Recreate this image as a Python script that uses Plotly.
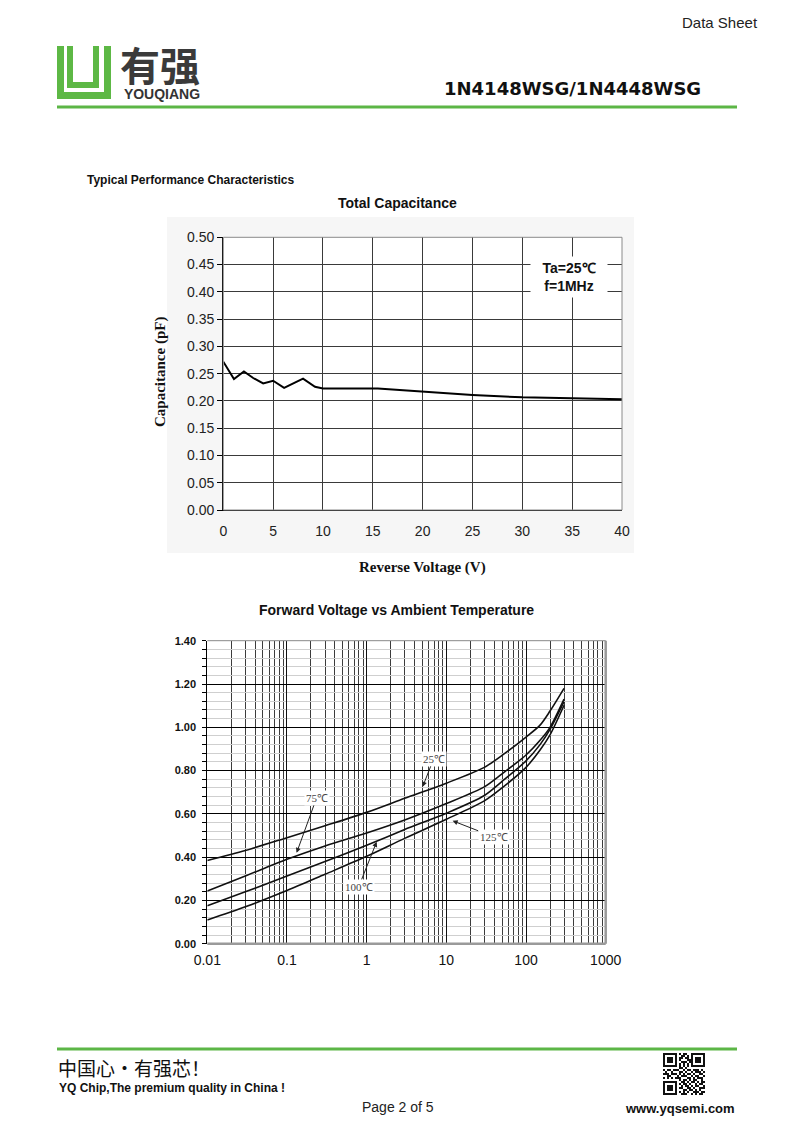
import math
import plotly.graph_objects as go

W, H = 794, 1123

# ---------------- data ----------------
# Total capacitance vs reverse voltage
cap_voltage = [0, 1.07, 2.07, 3, 4, 5, 6.1, 7, 8, 9.2, 10, 15.5, 18, 20, 25, 30, 35, 39, 40]
cap_pf = [0.272, 0.240, 0.254, 0.242, 0.232, 0.237, 0.224, 0.232, 0.241, 0.226,
          0.223, 0.223, 0.220, 0.2165, 0.211, 0.2065, 0.205, 0.203, 0.203]

# Forward voltage vs forward current at various temperatures
fv_current = [0.01, 0.03, 0.1, 0.3, 1, 3, 10, 30, 50, 100, 150, 200, 300]
fv_25 = [0.385, 0.431, 0.49, 0.545, 0.607, 0.672, 0.742, 0.815, 0.87, 0.955, 1.01, 1.075, 1.18]
fv_75 = [0.244, 0.313, 0.39, 0.452, 0.512, 0.572, 0.648, 0.725, 0.785, 0.872, 0.94, 1.0, 1.13]
fv_100 = [0.176, 0.24, 0.313, 0.38, 0.455, 0.528, 0.603, 0.685, 0.75, 0.845, 0.92, 0.99, 1.118]
fv_125 = [0.11, 0.171, 0.246, 0.321, 0.404, 0.487, 0.575, 0.66, 0.72, 0.815, 0.895, 0.965, 1.102]
fv_series = [("25℃", fv_25), ("75℃", fv_75), ("100℃", fv_100), ("125℃", fv_125)]

x2_tickvals = [0.01, 0.1, 1, 10, 100, 1000]
x2_ticktext = ["0.01", "0.1", "1", "10", "100", "1000"]

# ---------------- helpers ----------------
def px(x):
    return x / W

def py(y):
    return 1 - y / H

GREEN = "#5cb646"
SANS = "Liberation Sans, Arial, sans-serif"
SERIF = "Liberation Serif, Times New Roman, serif"
CJK = "Noto Sans CJK SC, sans-serif"

annotations = []
shapes = []

def text(t, x, y, size, xanchor="left", family=SANS, bold=False, color="#111",
         textangle=0, yanchor="middle"):
    annotations.append(dict(
        text=t, x=px(x), y=py(y), xref="paper", yref="paper",
        xanchor=xanchor, yanchor=yanchor, showarrow=False, textangle=textangle,
        align="left" if xanchor == "left" else ("right" if xanchor == "right" else "center"),
        font=dict(size=size, family=family, color=color, weight="bold" if bold else "normal"),
    ))

def rect(x0, y0, x1, y1, fill=None, line=None, lw=0, layer="below"):
    shapes.append(dict(
        type="rect", xref="paper", yref="paper",
        x0=px(x0), x1=px(x1), y0=py(y1), y1=py(y0),
        fillcolor=fill if fill else "rgba(0,0,0,0)",
        line=dict(color=line if line else "rgba(0,0,0,0)", width=lw),
        layer=layer,
    ))

def hline(x0, x1, y, color, width):
    shapes.append(dict(type="line", xref="paper", yref="paper",
                       x0=px(x0), x1=px(x1), y0=py(y), y1=py(y),
                       line=dict(color=color, width=width), layer="above"))

# ---------------- page header ----------------
text("Data Sheet", 760, 22, 15, xanchor="right", color="#222")
text("1N4148WSG/1N4448WSG", 703, 89, 18, xanchor="right",
     family="DejaVu Sans, sans-serif", bold=True, color="#111")
logo_text = ('<span style="font-family:\'Noto Sans CJK SC\';font-size:40px;'
             'font-weight:bold;color:#3a3a3a">有强</span><br>'
             '<span style="font-size:14px"> YOUQIANG</span>')
text(logo_text, 118, 104, 14, bold=True, color="#333", yanchor="bottom")
hline(57, 737, 107, GREEN, 3)

# logo icon (approximation with rectangles)
LG = "#5db845"
rect(57, 46, 64, 99, fill=LG, layer="above")        # outer left bar
rect(57, 92, 111, 99, fill=LG, layer="above")       # outer bottom bar
rect(104, 46, 111, 99, fill=LG, layer="above")      # outer right bar
rect(67, 46, 73, 88, fill=LG, layer="above")        # inner left bar
rect(67, 82, 99, 88, fill=LG, layer="above")        # inner bottom bar
rect(93, 46, 99, 88, fill=LG, layer="above")        # inner right bar

# ---------------- section titles ----------------
text("Typical Performance Characteristics", 85, 180, 12, bold=True, color="#111")
text("Total Capacitance", 397, 203, 14, xanchor="center", bold=True, color="#111")

# chart 1 light background box
rect(167, 217, 634, 553, fill="#f6f6f6")
rect(223.3, 237.3, 622, 510, fill="#ffffff")

# ---------------- chart 1 ----------------
fig = go.Figure()
fig.add_trace(go.Scatter(
    x=cap_voltage, y=cap_pf, mode="lines", xaxis="x", yaxis="y",
    line=dict(color="#000", width=2), showlegend=False, hoverinfo="skip",
))

# chart 1 axis titles
text("Capacitance (pF)", 161, 372, 15, xanchor="center", family=SERIF, bold=True,
     color="#111", textangle=-90)
text("Reverse Voltage (V)", 422, 567, 15, xanchor="center", family=SERIF, bold=True, color="#111")

# condition box
annotations.append(dict(
    text="Ta=25℃<br>f=1MHz", x=px(569), y=py(277), xref="paper", yref="paper",
    xanchor="center", yanchor="middle", showarrow=False, bgcolor="#ffffff",
    width=74, height=38, align="center",
    font=dict(size=14, family=SANS, color="#111", weight="bold"),
))

# chart 1 frame (top / right grey)
rect(223.3, 237.3, 622, 510, line="#8a8a8a", lw=1, layer="above")

# ---------------- chart 2 ----------------
text("Forward Voltage vs Ambient Temperature", 396, 610, 14, xanchor="center", bold=True, color="#111")

for name, vals in fv_series:
    fig.add_trace(go.Scatter(
        x=fv_current, y=vals, mode="lines", xaxis="x2", yaxis="y2", name=name,
        line=dict(color="#111", width=1.6, shape="spline", smoothing=0.8),
        showlegend=False, hoverinfo="skip",
    ))

rect(207.3, 640.7, 605.7, 943.8, fill="#ffffff")
# frame: grey
shapes.append(dict(type="line", xref="paper", yref="paper",
                   x0=px(207.3), x1=px(605.7), y0=py(943.8), y1=py(943.8),
                   line=dict(color="#9a9a9a", width=2.5), layer="above"))
shapes.append(dict(type="line", xref="paper", yref="paper",
                   x0=px(605.7), x1=px(605.7), y0=py(943.8), y1=py(640.7),
                   line=dict(color="#9a9a9a", width=2.5), layer="above"))
shapes.append(dict(type="line", xref="paper", yref="paper",
                   x0=px(207.3), x1=px(605.7), y0=py(640.7), y1=py(640.7),
                   line=dict(color="#888", width=1), layer="above"))

# curve labels with arrows (tip in data coords, text offset in pixels)
def curve_label(t, xv, yv, ax, ay):
    annotations.append(dict(
        text=t, x=math.log10(xv), y=yv, xref="x2", yref="y2",
        ax=ax, ay=ay, showarrow=True, arrowhead=2, arrowsize=1, arrowwidth=1,
        arrowcolor="#222", bgcolor="#ffffff", borderpad=1,
        font=dict(size=11, family=SERIF, color="#444"),
    ))

curve_label(fv_series[0][0], 5.04, 0.725, 11, -28)
curve_label(fv_series[1][0], 0.132, 0.42, 20, -55)
curve_label(fv_series[2][0], 1.335, 0.471, -18, 45)
curve_label(fv_series[3][0], 12.0, 0.568, 41, 16)

# ---------------- footer ----------------
hline(57, 737, 1049, GREEN, 3)
text("中国心・有强芯！", 56, 1067, 19, family=CJK, color="#111")
text("YQ Chip,The premium quality in China !", 57, 1088, 12, bold=True, color="#111")
text("Page 2 of 5", 398, 1107, 14, xanchor="center", color="#222")
text("www.yqsemi.com", 737, 1108, 13, xanchor="right", bold=True, color="#111")

# QR code decoration (fixed pattern)
finder = ["1111111", "1000001", "1011101", "1011101", "1011101", "1000001", "1111111"]
top_mid = ["0101100", "0011010", "0110110", "0100011", "0011101", "0101010", "0101010"]
mid_rows = [
    "000000001101000000000",
    "101101110010110111010",
    "010010001101001011101",
    "111011101010110100110",
    "001100010111001011001",
    "101010111000110101110",
    "000000001011010110010",
]
bot_right = ["0110101101011", "1011010010110", "0101101011001", "1100110100111",
             "0011011010100", "1010100111011", "0111001010110"]
qr = [finder[i] + top_mid[i] + finder[i] for i in range(7)] + mid_rows + \
     [finder[i] + "0" + bot_right[i] for i in range(7)]
qx0, qy0, cs = 663.0, 1053.0, 2.0
for r, row in enumerate(qr):
    c = 0
    while c < len(row):
        if row[c] == "1":
            s = c
            while c < len(row) and row[c] == "1":
                c += 1
            rect(qx0 + s * cs, qy0 + r * cs, qx0 + c * cs, qy0 + (r + 1) * cs,
                 fill="#111", layer="above")
        else:
            c += 1

# ---------------- layout ----------------
fig.update_layout(
    width=W, height=H, autosize=False,
    margin=dict(l=0, r=0, t=0, b=0, pad=0, autoexpand=False),
    paper_bgcolor="#ffffff", plot_bgcolor="rgba(0,0,0,0)",
    showlegend=False,
    annotations=annotations, shapes=shapes,
    xaxis=dict(
        domain=[px(223.3), px(622)], anchor="y", range=[0, 40],
        tickmode="linear", tick0=0, dtick=5,
        showgrid=True, gridcolor="#3a3a3a", gridwidth=1,
        showline=True, linecolor="#000", linewidth=1.2,
        zeroline=False, ticks="", ticklabelstandoff=8, automargin=False,
        tickfont=dict(size=14, family=SANS, color="#222"),
    ),
    yaxis=dict(
        domain=[py(510), py(237.3)], anchor="x", range=[0, 0.5],
        tickmode="linear", tick0=0, dtick=0.05, tickformat=".2f",
        showgrid=True, gridcolor="#3a3a3a", gridwidth=1,
        showline=True, linecolor="#000", linewidth=1.2,
        zeroline=False, ticks="outside", ticklen=5, tickcolor="#000", automargin=False,
        tickfont=dict(size=14, family=SANS, color="#222"),
    ),
    xaxis2=dict(
        domain=[px(207.3), px(605.7)], anchor="y2", type="log", range=[-2, 3],
        tickmode="array", tickvals=x2_tickvals, ticktext=x2_ticktext,
        showgrid=True, gridcolor="#111", gridwidth=1,
        minor=dict(dtick="D1", showgrid=True, gridcolor="#3c3c3c", gridwidth=1, ticks=""),
        showline=False, zeroline=False, ticks="", ticklabelstandoff=6, automargin=False,
        tickfont=dict(size=14, family=SANS, color="#111"),
    ),
    yaxis2=dict(
        domain=[py(943.8), py(640.7)], anchor="x2", range=[0, 1.4],
        tickmode="linear", tick0=0, dtick=0.2, tickformat=".2f",
        showgrid=True, gridcolor="#000", gridwidth=1,
        minor=dict(dtick=0.04, showgrid=True, gridcolor="#cfcfcf", gridwidth=1,
                   ticks="outside", ticklen=4, tickcolor="#000"),
        showline=True, linecolor="#000", linewidth=1,
        zeroline=False, ticks="outside", ticklen=4, tickcolor="#000",
        ticklabelstandoff=4, automargin=False,
        tickfont=dict(size=11, family=SANS, color="#111", weight="bold"),
    ),
)

fig.write_html(
    "out.html",
    config={"staticPlot": True, "displayModeBar": False},
    post_script="document.body.style.margin='0';document.body.style.padding='0';",
)
